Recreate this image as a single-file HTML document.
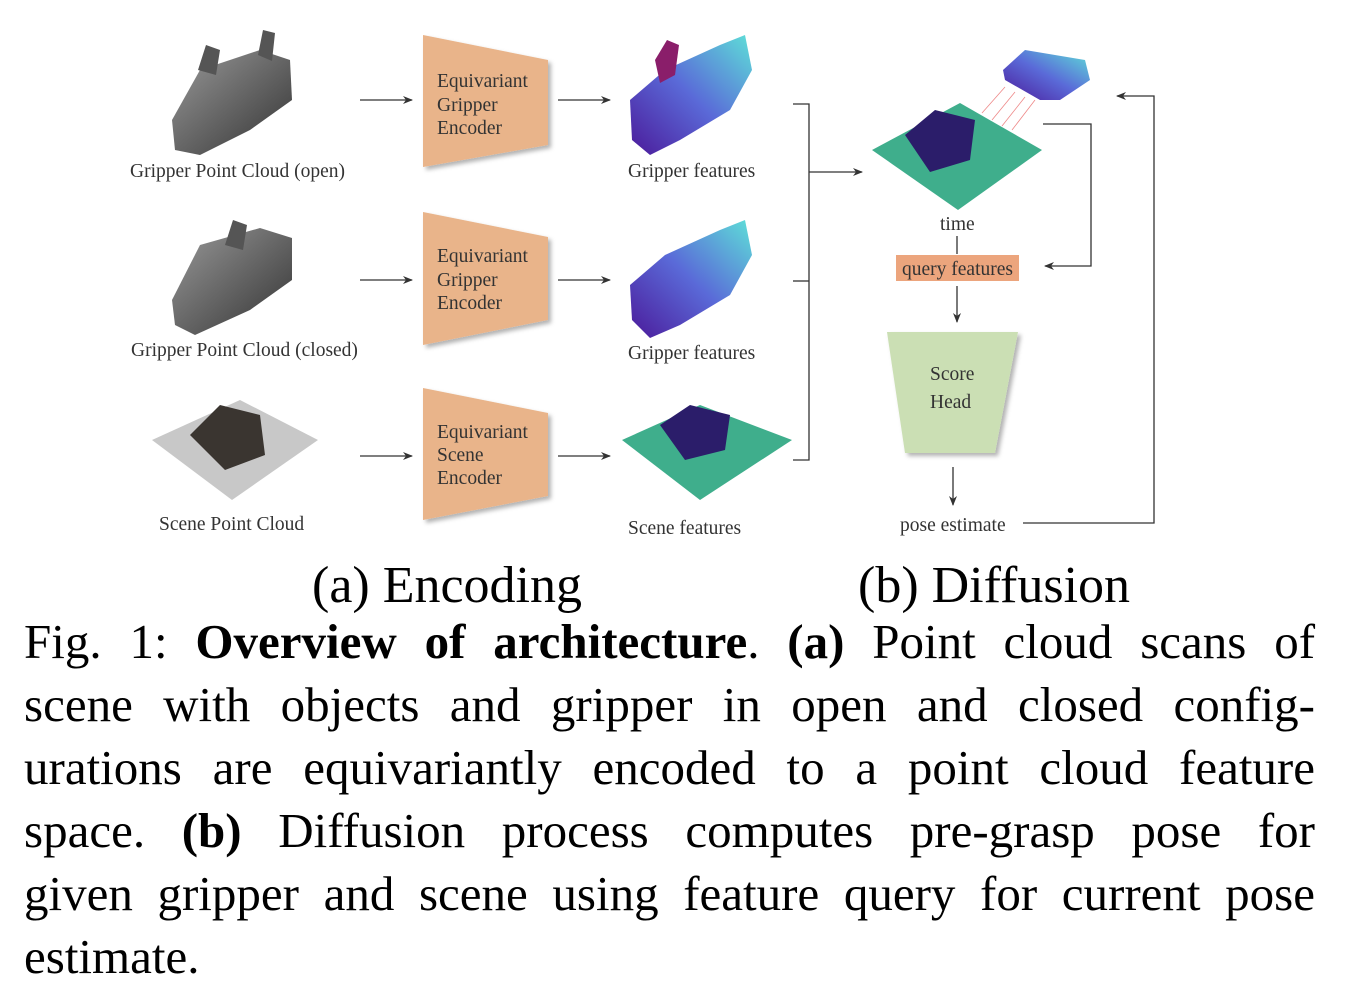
<!DOCTYPE html>
<html><head><meta charset="utf-8"><style>
body{margin:0;background:#fff;width:1350px;height:999px;overflow:hidden;position:relative;font-family:"Liberation Serif",serif;}
svg{position:absolute;left:0;top:0}
.cap{position:absolute;left:24px;width:1291px;font-size:49px;line-height:49px;color:#000;text-align:justify;text-align-last:justify;white-space:nowrap;}
.cap.l{text-align-last:left}
.sub{position:absolute;font-size:52px;line-height:52px;color:#000;top:560px}
</style></head><body>
<svg width="1350" height="560" viewBox="0 0 1350 560" font-family="Liberation Serif, serif">
<defs>
<marker id="a" markerWidth="10" markerHeight="8" refX="9" refY="4" orient="auto" markerUnits="userSpaceOnUse"><path d="M0,0 L10,4 L0,8 L3,4z" fill="#333"/></marker>
<filter id="sh"><feDropShadow dx="3" dy="3" stdDeviation="2" flood-color="#000" flood-opacity="0.3"/></filter>
<linearGradient id="gf" x1="0" y1="1" x2="1" y2="0"><stop offset="0" stop-color="#4b1a9a"/><stop offset="0.5" stop-color="#5a6ad8"/><stop offset="1" stop-color="#5ee0d8"/></linearGradient>
<linearGradient id="gr" x1="0" y1="0" x2="1" y2="1"><stop offset="0" stop-color="#999"/><stop offset="1" stop-color="#333"/></linearGradient>
</defs>
<g fill="#333" font-size="19.5">
<path d="M172,120 L200,70 L260,50 L290,60 L292,100 L250,130 L200,155 L175,150z" fill="url(#gr)"/>
<path d="M198,70 l8,-25 l14,5 l-4,25z M258,55 l5,-25 l12,3 l-3,28z" fill="#555"/>
<path d="M172,300 L200,245 L260,228 L292,238 L292,280 L250,310 L195,335 L175,325z" fill="url(#gr)"/>
<path d="M225,245 l8,-25 l14,5 l-4,25z" fill="#555"/>
<path d="M152,440 L240,400 L318,440 L232,500z" fill="#c8c8c8"/>
<path d="M190,435 l30,-30 l40,10 l5,40 l-40,15z" fill="#3a3530"/>
<text x="130" y="177">Gripper Point Cloud (open)</text>
<text x="131" y="356">Gripper Point Cloud (closed)</text>
<text x="159" y="530">Scene Point Cloud</text>
</g>
<g stroke="#333" stroke-width="1.3" fill="none" marker-end="url(#a)">
<line x1="360" y1="100" x2="412" y2="100"/><line x1="558" y1="100" x2="610" y2="100"/>
<line x1="360" y1="280" x2="412" y2="280"/><line x1="558" y1="280" x2="610" y2="280"/>
<line x1="360" y1="456" x2="412" y2="456"/><line x1="558" y1="456" x2="610" y2="456"/>
<line x1="809" y1="172" x2="862" y2="172"/>
<line x1="957" y1="286" x2="957" y2="322"/>
<line x1="953" y1="467" x2="953" y2="505"/>
<polyline points="1043,124 1091,124 1091,266 1045,266"/>
<polyline points="1023,523 1154,523 1154,96 1117,96"/>
</g>
<g stroke="#333" stroke-width="1.3" fill="none">
<polyline points="793,104 809,104 809,460 793,460"/><line x1="793" y1="281" x2="809" y2="281"/>
<line x1="957" y1="236" x2="957" y2="254"/>
</g>
<g fill="#e9b48a" filter="url(#sh)">
<path d="M423,35 L548,60 L548,145 L423,167z"/>
<path d="M423,212 L548,237 L548,320 L423,345z"/>
<path d="M423,388 L548,413 L548,496 L423,520z"/>
</g>
<g fill="#333" font-size="19.5">
<text x="437" y="87">Equivariant</text><text x="437" y="111">Gripper</text><text x="437" y="134">Encoder</text>
<text x="437" y="262">Equivariant</text><text x="437" y="286">Gripper</text><text x="437" y="309">Encoder</text>
<text x="437" y="438">Equivariant</text><text x="437" y="461">Scene</text><text x="437" y="484">Encoder</text>
</g>
<path d="M630,100 L665,70 L720,45 L745,35 L752,70 L730,110 L680,140 L650,155 L632,140z" fill="url(#gf)"/>
<path d="M655,60 l12,-20 l12,5 l-4,30 l-15,8z" fill="#8a1e6a"/>
<path d="M630,285 L665,255 L720,230 L745,220 L752,255 L730,295 L680,325 L650,338 L632,320z" fill="url(#gf)"/>
<path d="M622,440 L700,405 L792,440 L700,500z" fill="#3fae8c"/>
<path d="M660,425 l30,-20 l40,10 l-5,35 l-40,10z" fill="#2b1d6a"/>
<path d="M872,150 L960,103 L1042,150 L958,210z" fill="#3fae8c"/>
<path d="M905,135 l30,-25 l40,10 l-5,40 l-40,12z" fill="#2b1d6a"/>
<path d="M1003,70 L1025,50 L1085,60 L1090,80 L1060,100 L1040,100 L1005,80z" fill="url(#gf)"/>
<g stroke="#e88" stroke-width="0.8"><line x1="982" y1="113" x2="1005" y2="87"/><line x1="992" y1="120" x2="1015" y2="92"/><line x1="1002" y1="126" x2="1025" y2="97"/><line x1="1012" y1="130" x2="1035" y2="100"/></g>
<g fill="#333" font-size="19.5">
<text x="628" y="177">Gripper features</text>
<text x="628" y="359">Gripper features</text>
<text x="628" y="534">Scene features</text>
<text x="940" y="230">time</text>
<text x="900" y="531">pose estimate</text>
</g>
<rect x="896" y="255" width="123" height="26" fill="#eca57d"/>
<text x="902" y="275" font-size="19.5" fill="#333">query features</text>
<path d="M887,332 L1018,332 L995,453 L905,453z" fill="#cbdfb4" filter="url(#sh)"/>
<text x="930" y="380" font-size="19.5" fill="#333">Score</text>
<text x="930" y="408" font-size="19.5" fill="#333">Head</text>
</svg>
<div class="sub" style="left:312px">(a) Encoding</div>
<div class="sub" style="left:858px">(b) Diffusion</div>
<div class="cap" style="top:617px">Fig. 1: <b>Overview of architecture</b>. <b>(a)</b> Point cloud scans of</div>
<div class="cap" style="top:680px">scene with objects and gripper in open and closed config-</div>
<div class="cap" style="top:743px">urations are equivariantly encoded to a point cloud feature</div>
<div class="cap" style="top:806px">space. <b>(b)</b> Diffusion process computes pre-grasp pose for</div>
<div class="cap" style="top:869px">given gripper and scene using feature query for current pose</div>
<div class="cap l" style="top:932px">estimate.</div>
</body></html>
